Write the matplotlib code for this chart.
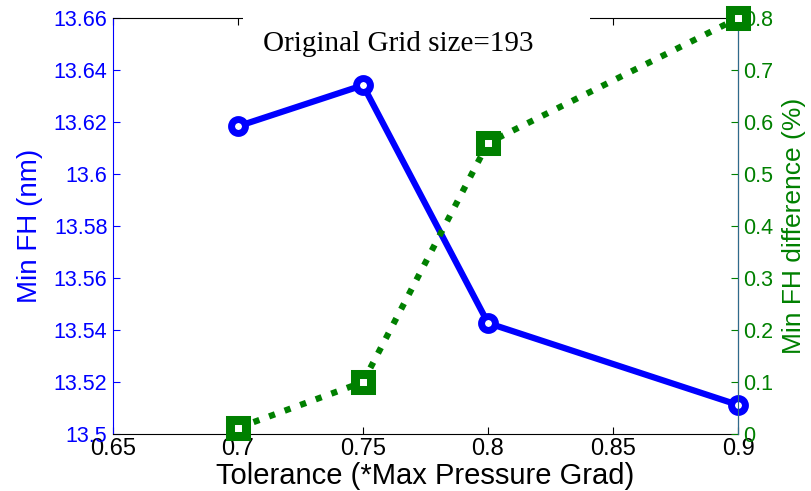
import matplotlib
matplotlib.use("Agg")
import matplotlib.pyplot as plt
from matplotlib.patches import Rectangle

# tolerance sweep results
tolerance = [0.7, 0.75, 0.8, 0.9]
min_fh = [13.6184, 13.6342, 13.5427, 13.5112]
fh_diff = [0.012, 0.10, 0.56, 0.80]

x_ticks = [0.65, 0.7, 0.75, 0.8, 0.85, 0.9]
fh_ticks = [13.5, 13.52, 13.54, 13.56, 13.58, 13.6, 13.62, 13.64, 13.66]
diff_ticks = [0, 0.1, 0.2, 0.3, 0.4, 0.5, 0.6, 0.7, 0.8]

plt.rcParams['font.family'] = ['Liberation Sans', 'DejaVu Sans']

fig = plt.figure(figsize=(8.11, 4.91), dpi=100)
ax1 = fig.add_axes([0.1393, 0.116, 0.7707, 0.847])
ax2 = ax1.twinx()

blue = '#0000ff'
green = '#008000'

ax1.plot(tolerance, min_fh, '-o', color=blue, lw=4.5, ms=10,
         mfc='white', mec=blue, mew=5, clip_on=False, zorder=3)
ax2.plot(tolerance, fh_diff, ':s', color=green, lw=4.5, ms=11,
         mfc='white', mec=green, mew=6.5, clip_on=False, zorder=3)

ax1.set_xlim(0.65, 0.9)
ax1.set_ylim(13.5, 13.66)
ax2.set_ylim(0, 0.8)

ax1.set_xticks(x_ticks)
ax1.set_xticklabels([f'{v:g}' for v in x_ticks], fontsize=17)
ax1.set_yticks(fh_ticks)
ax1.set_yticklabels([f'{v:g}' for v in fh_ticks])
ax2.set_yticks(diff_ticks)
ax2.set_yticklabels([f'{v:g}' for v in diff_ticks])

ax1.tick_params(axis='x', direction='in', length=5, top=True, colors='black', pad=3)
ax1.tick_params(axis='y', direction='in', length=5, colors=blue, labelsize=15.5, pad=4)
ax2.tick_params(axis='y', direction='in', length=5, colors=green, labelsize=15.5, pad=4)

ax1.spines['left'].set_color(blue)
ax1.spines['bottom'].set_color('black')
ax1.spines['top'].set_color('black')
ax2.spines['right'].set_color('#2f6a8c')
ax2.spines['left'].set_visible(False)
ax2.spines['top'].set_visible(False)
ax2.spines['bottom'].set_visible(False)

ax1.set_ylabel('Min FH (nm)', color=blue, fontsize=20, labelpad=8)
ax2.set_ylabel('Min FH difference (%)', color=green, fontsize=19, labelpad=6)
ax1.set_xlabel('Tolerance (*Max Pressure Grad)', fontsize=21, labelpad=1)

# white patch hiding the top border behind the annotation
fig.add_artist(Rectangle((243 / 811, 1 - 52 / 491), (590 - 243) / 811, 42 / 491,
                         transform=fig.transFigure, facecolor='white',
                         edgecolor='none', zorder=5))
fig.text(398 / 811, 1 - 51 / 491, 'Original Grid size=193', ha='center',
         va='baseline', family=['Liberation Serif', 'DejaVu Serif'],
         fontsize=21, zorder=6)

fig.savefig('out.png', dpi=100)
